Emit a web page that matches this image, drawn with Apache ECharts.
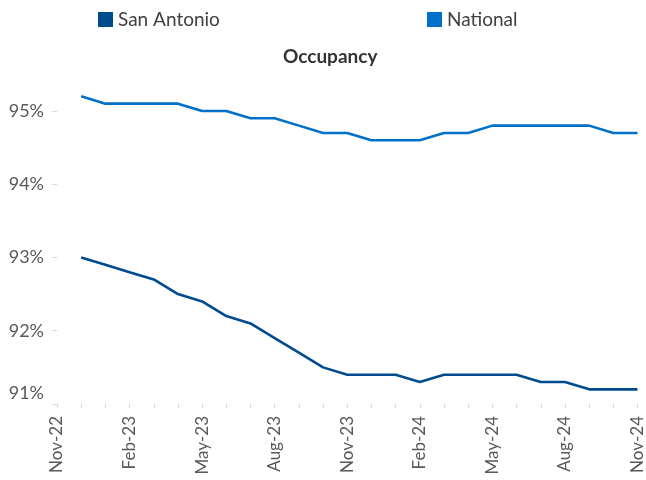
<!DOCTYPE html>
<html>
<head>
<meta charset="utf-8">
<script src="https://cdn.jsdelivr.net/npm/echarts@6/dist/echarts.min.js"></script>
<style>html,body{margin:0;padding:0;background:#fff;}#c{width:646px;height:480px;}</style>
</head>
<body>
<div id="c"></div>
<script>
const months = ['Nov-22','Dec-22','Jan-23','Feb-23','Mar-23','Apr-23','May-23','Jun-23','Jul-23','Aug-23','Sep-23','Oct-23','Nov-23','Dec-23','Jan-24','Feb-24','Mar-24','Apr-24','May-24','Jun-24','Jul-24','Aug-24','Sep-24','Oct-24','Nov-24'];
const sanAntonio = [null,93.0,92.9,92.8,92.7,92.5,92.4,92.2,92.1,91.9,91.7,91.5,91.4,91.4,91.4,91.3,91.4,91.4,91.4,91.4,91.3,91.3,91.2,91.2,91.2];
const national = [null,95.2,95.1,95.1,95.1,95.1,95.0,95.0,94.9,94.9,94.8,94.7,94.7,94.6,94.6,94.6,94.7,94.7,94.8,94.8,94.8,94.8,94.8,94.7,94.7];
const yTicks = [91,92,93,94,95];
const seriesNames = ['San Antonio','National'];
const colors = ['#004B8D','#0070C9'];

const FONT = 'Lato';
const chart = echarts.init(document.getElementById('c'), null, {renderer:'canvas'});
chart.setOption({
  animation:false,
  title:{text:'Occupancy', left:278, top:42, textStyle:{fontFamily:FONT, fontSize:19, fontWeight:'bold', color:'#333333'}},
  legend:[
    {data:[seriesNames[0]], left:93, top:5, icon:'rect', itemWidth:15, itemHeight:15, textStyle:{fontFamily:FONT, fontSize:19, color:'#404040'}},
    {data:[seriesNames[1]], left:422, top:5, icon:'rect', itemWidth:15, itemHeight:15, textStyle:{fontFamily:FONT, fontSize:19, color:'#404040'}}
  ],
  grid:{left:57, right:6, top:89, bottom:76, containLabel:false},
  xAxis:{
    type:'category', data:months, boundaryGap:false,
    axisLine:{show:false},
    axisTick:{show:true, interval:0, length:4, lineStyle:{color:'#d9d9d9'}},
    axisLabel:{interval:2, rotate:90, margin:12, fontFamily:FONT, fontSize:17, color:'#595959'},
    splitLine:{show:false}
  },
  yAxis:{
    type:'value', min:91, max:95.3,
    axisLine:{show:false},
    axisTick:{show:true, length:5, lineStyle:{color:'#d9d9d9'}, customValues:yTicks},
    axisLabel:{customValues:yTicks, margin:13, fontFamily:FONT, fontSize:18, color:'#595959',
      formatter:function(v){ return v===yTicks[0] ? '{b|'+v+'%}' : v+'%'; },
      rich:{b:{fontFamily:FONT, fontSize:18, color:'#595959', padding:[0,0,22,0]}}},
    splitLine:{show:false}
  },
  series:[
    {name:seriesNames[0], type:'line', data:sanAntonio, symbol:'none', lineStyle:{width:2.6, color:colors[0]}, itemStyle:{color:colors[0]}},
    {name:seriesNames[1], type:'line', data:national, symbol:'none', lineStyle:{width:2.6, color:colors[1]}, itemStyle:{color:colors[1]}}
  ]
});
</script>
</body>
</html>
